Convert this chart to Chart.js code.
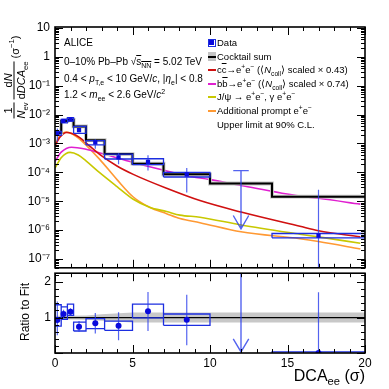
<!DOCTYPE html>
<html lang="en">
<head>
<meta charset="UTF-8">
<title>DCAee spectrum, 0-10% Pb-Pb</title>
<script src="https://cdn.jsdelivr.net/npm/chart.js"></script>
<style>
  body { margin: 0; background: #fff; font-family: "Liberation Sans", Arial, sans-serif; color: #000; }
  #wrap { position: relative; width: 389px; height: 389px; overflow: hidden; }
  canvas { position: absolute; left: 0; }
  #topChart { top: 0; }
  #ratioChart { top: 262px; }
  .txt { position: absolute; white-space: nowrap; line-height: 1; }
  .ann { left: 64px; font-size: 10px; }
  .leg { left: 217px; font-size: 9.5px; }
  sub, sup { font-size: 70%; line-height: 0; }
  .ol { text-decoration: overline; }
  .mk { position: absolute; }
  .frac { display: inline-flex; flex-direction: column; align-items: stretch; text-align: center; vertical-align: middle; }
  .frac .den { border-top: 1px solid #000; }
  #ytitle { position: absolute; left: 14px; top: 77px; transform: translate(-50%, -50%) rotate(-90deg);
            font-size: 11px; white-space: nowrap; display: flex; align-items: center; gap: 3px; }
  #rtitle { position: absolute; left: 25px; top: 312px; transform: translate(-50%, -50%) rotate(-90deg);
            font-size: 12px; white-space: nowrap; }
  #xtitle { position: absolute; right: 24px; top: 368px; font-size: 16px; line-height: 1; white-space: nowrap; }
</style>
</head>
<body>
<div id="wrap">
  <canvas id="topChart" width="389" height="280"></canvas>
  <canvas id="ratioChart" width="389" height="127"></canvas>

  <div id="ytitle">
    <span class="frac"><span>1</span><span class="den"><i>N</i><sub>ev</sub></span></span>
    <span class="frac"><span>d<i>N</i></span><span class="den">d<i>DCA</i><sub>ee</sub></span></span>
    <span>(σ<sup>−1</sup>)</span>
  </div>
  <div id="rtitle">Ratio to Fit</div>
  <div id="xtitle">DCA<sub>ee</sub> (σ)</div>

  <div class="txt ann" style="top:38px">ALICE</div>
  <div class="txt ann" style="top:57px">0–10% Pb–Pb √<span class="ol">s<sub>NN</sub></span> = 5.02 TeV</div>
  <div class="txt ann" style="top:74px">0.4 &lt; <i>p</i><sub>T,e</sub> &lt; 10 GeV/<i>c</i>, |<i>η</i><sub>e</sub>| &lt; 0.8</div>
  <div class="txt ann" style="top:90px">1.2 &lt; <i>m</i><sub>ee</sub> &lt; 2.6 GeV/<i>c</i><sup>2</sup></div>

  <!-- legend -->
  <div class="mk" style="left:208px;top:39px;width:6px;height:6px;border:1px solid #1c2ee0"></div>
  <div class="mk" style="left:209px;top:40px;width:5px;height:5px;background:#0a0adc"></div>
  <div class="mk" style="left:208px;top:52px;width:8px;height:9px;background:#c4c4c4"></div>
  <div class="mk" style="left:208px;top:55.5px;width:8px;height:2px;background:#000"></div>
  <div class="mk" style="left:208px;top:69px;width:8px;height:2px;background:#d01010"></div>
  <div class="mk" style="left:208px;top:82.5px;width:8px;height:2px;background:#e020d0"></div>
  <div class="mk" style="left:208px;top:96px;width:8px;height:2px;background:#c8c800"></div>
  <div class="mk" style="left:208px;top:110px;width:8px;height:2px;background:#ff9933"></div>

  <div class="txt leg" style="top:38px">Data</div>
  <div class="txt leg" style="top:51.5px">Cocktail sum</div>
  <div class="txt leg" style="top:65px">c<span class="ol">c</span>→e<sup>+</sup>e<sup>−</sup> (⟨<i>N</i><sub>coll</sub>⟩ scaled × 0.43)</div>
  <div class="txt leg" style="top:78.5px">b<span class="ol">b</span>→e<sup>+</sup>e<sup>−</sup> (⟨<i>N</i><sub>coll</sub>⟩ scaled × 0.74)</div>
  <div class="txt leg" style="top:92px">J/ψ → e<sup>+</sup>e<sup>−</sup>, γ e<sup>+</sup>e<sup>−</sup></div>
  <div class="txt leg" style="top:105.5px">Additional prompt e<sup>+</sup>e<sup>−</sup></div>
  <div class="txt leg" style="top:119.5px">Upper limit at 90% C.L.</div>
</div>

<script>
// ---- values ----
const binLo = [0, 0.4, 0.8, 1.2, 2, 3.2, 5, 7, 10, 14];
const binHi = [0.4, 0.8, 1.2, 2, 3.2, 5, 7, 10, 14, 20];
const cocktailSum = [2.3e-3, 6.0e-3, 6.6e-3, 3.9e-3, 1.3e-3, 4.3e-4, 2.0e-4, 8.5e-5, 4.1e-5, 1.44e-5];

// measured points (bin 10-14 is an upper limit, drawn separately)
const dataX  = [0.15, 0.55, 1.0, 1.55, 2.6, 4.1, 6.0, 8.5, 17];
const dataLo = [0, 0.4, 0.8, 1.2, 2, 3.2, 5, 7, 14];
const dataHi = [0.4, 0.8, 1.2, 2, 3.2, 5, 7, 10, 20];
const dataY  = [2.2e-3, 6.0e-3, 6.8e-3, 2.9e-3, 1.08e-3, 3.3e-4, 2.3e-4, 8.5e-5, 6.4e-7];
const statLo = [1.15e-3, 5.3e-3, 6.1e-3, 2.45e-3, 6.5e-4, 1.9e-4, 1.15e-4, 2.0e-5, 1e-9];
const statHi = [3.3e-3, 6.8e-3, 7.6e-3, 3.5e-3, 1.4e-3, 4.7e-4, 3.9e-4, 1.4e-4, 2.5e-5];
const sysLo  = [1.9e-3, 5.2e-3, 6.0e-3, 2.25e-3, 8.9e-4, 2.9e-4, 1.86e-4, 6.9e-5, 5.4e-7];
const sysHi  = [2.6e-3, 6.8e-3, 7.8e-3, 3.9e-3, 1.26e-3, 4.3e-4, 2.95e-4, 1.0e-4, 7.6e-7];

const limitX = 12, limitHalfW = 0.5;
const limitY = 1.15e-4, limitTip = 1.1e-6, limitWing = 3.2e-6;

// ratio panel
const ratioY      = [0.93, 1.1, 1.16, 0.74, 0.84, 0.77, 1.18, 0.94, 0.0];
const ratioStatLo = [0.5, 0.98, 1.06, 0.6, 0.55, 0.36, 0.62, 0.22, 0.0];
const ratioStatHi = [1.45, 1.22, 1.26, 0.9, 1.13, 1.15, 1.72, 1.64, 1.71];
const ratioSysLo  = [0.76, 0.95, 1.06, 0.62, 0.69, 0.64, 0.99, 0.78, -0.03];
const ratioSysHi  = [1.36, 1.3, 1.38, 0.87, 0.97, 0.9, 1.38, 1.1, 0.03];
const ratioLimitTop = 2.3, ratioLimitTip = 0.03, ratioLimitWing = 0.4;

const fitBandX  = [0, 2, 3, 5, 20];
const fitBandLo = [0.95, 0.94, 0.91, 0.86, 0.86];
const fitBandHi = [1.05, 1.06, 1.09, 1.14, 1.14];

// cocktail components
const ccX = [0, 0.3, 0.75, 1.1, 1.6, 2.26, 2.9, 4, 5.05, 7.2, 9.35, 12, 15.8, 17, 19.7];
const ccY = [8.3e-4, 1.6e-3, 2.4e-3, 2.2e-3, 1.6e-3, 7.9e-4, 4.1e-4, 1.66e-4, 8.5e-5, 2.8e-5, 1.05e-5, 4.2e-6, 1.35e-6, 9.5e-7, 5.8e-7];
const bbX = [0, 0.4, 1.07, 2, 2.9, 5.05, 7.2, 8.5, 10, 12, 15.8, 17, 19.7];
const bbY = [2.4e-4, 5.0e-4, 7.4e-4, 6.3e-4, 4.7e-4, 2.2e-4, 1.12e-4, 7.6e-5, 5.6e-5, 3.5e-5, 1.5e-5, 1.26e-5, 7.9e-6];
const jpsiX = [0, 0.4, 0.97, 1.5, 2.0, 2.9, 4.0, 5.05, 6.1, 7.2, 8.06, 9.35, 12, 15.8, 17, 19.7];
const jpsiY = [1.4e-4, 3.2e-4, 4.9e-4, 4.0e-4, 2.5e-4, 9.5e-5, 3.2e-5, 1.17e-5, 6.2e-6, 4.4e-6, 3.3e-6, 2.8e-6, 1.5e-6, 7.2e-7, 5.8e-7, 3.5e-7];
const promptX = [0, 0.3, 0.75, 1.2, 1.8, 2.9, 4.0, 5.05, 6.1, 7.2, 8.06, 9.35, 12, 15.8, 17, 19.7];
const promptY = [8.9e-4, 1.8e-3, 2.5e-3, 2.0e-3, 1.12e-3, 2.75e-4, 5.6e-5, 1.4e-5, 6.2e-6, 3.7e-6, 2.5e-6, 1.8e-6, 8.7e-7, 5.0e-7, 4.0e-7, 2.2e-7];

const topTicks = [1e-7, 1e-6, 1e-5, 1e-4, 1e-3, 1e-2, 1e-1, 1, 10];
const ratioTicks = [1, 2];
const xTicks = [0, 5, 10, 15, 20];

const BLUE = '#0a0adc', BOX = '#1c2ee0', ERR = 'rgba(40,60,235,0.8)';
Chart.defaults.font.family = '"Liberation Sans", Arial, sans-serif';
Chart.defaults.color = '#000';

// ---- helpers turning arrays into line paths ----
const pts = (xs, ys) => xs.map((x, i) => ({ x, y: ys[i] }));
function histo(lo, hi, v) {
  const out = lo.map((l, i) => ({ x: l, y: v[i] }));
  out.push({ x: hi[hi.length - 1], y: v[v.length - 1] });
  return out;
}
function boxes(lo, hi, ylo, yhi) {
  const out = [];
  lo.forEach((l, i) => {
    out.push({ x: l, y: ylo[i] }, { x: hi[i], y: ylo[i] }, { x: hi[i], y: yhi[i] },
             { x: l, y: yhi[i] }, { x: l, y: ylo[i] }, { x: l, y: null });
  });
  return out;
}
function bars(xs, ylo, yhi) {
  const out = [];
  xs.forEach((x, i) => out.push({ x, y: ylo[i] }, { x, y: yhi[i] }, { x, y: null }));
  return out;
}
const segLine = (data, color, width, order) => ({
  data, showLine: true, borderColor: color, borderWidth: width, pointRadius: 0,
  fill: false, spanGaps: false, order
});
const curve = (xs, ys, color) => ({
  data: pts(xs, ys), showLine: true, borderColor: color, borderWidth: 1.6,
  pointRadius: 0, cubicInterpolationMode: 'monotone', order: 6
});

// ROOT-like frame with inward ticks on all four sides
const frameTicks = {
  id: 'frameTicks',
  afterDatasetsDraw(chart, args, opts) {
    const { ctx, chartArea: a, scales: { x, y } } = chart;
    ctx.save();
    ctx.strokeStyle = '#000';
    ctx.lineWidth = 1;
    const seg = (x1, y1, x2, y2) => { ctx.beginPath(); ctx.moveTo(x1, y1); ctx.lineTo(x2, y2); ctx.stroke(); };
    for (let v = 0; v <= 20; v++) {
      const px = Math.round(x.getPixelForValue(v)) + 0.5;
      const len = v % 5 === 0 ? 8 : 4;
      seg(px, a.bottom, px, a.bottom - len);
      seg(px, a.top, px, a.top + len);
    }
    const yt = [];
    if (opts.log) {
      for (let k = -8; k <= 1; k++)
        for (let m = 1; m <= 9; m++) yt.push([m * Math.pow(10, k), m === 1]);
    } else {
      for (let i = 0; i <= 11; i++) yt.push([i * 0.2, i % 5 === 0]);
    }
    yt.forEach(([v, major]) => {
      if (v < y.min || v > y.max) return;
      const py = Math.round(y.getPixelForValue(v)) + 0.5;
      const len = major ? 8 : 4;
      seg(a.left, py, a.left + len, py);
      seg(a.right, py, a.right - len, py);
    });
    ctx.lineWidth = 1.6;
    ctx.strokeRect(a.left, a.top, a.right - a.left, a.bottom - a.top);
    ctx.restore();
  }
};

const supDigits = { '-': '⁻', '0': '⁰', '1': '¹', '2': '²', '3': '³', '4': '⁴', '5': '⁵', '6': '⁶', '7': '⁷', '8': '⁸', '9': '⁹' };
function logLabel(v) {
  const e = Math.round(Math.log10(v));
  if (e === 0) return '1';
  if (e === 1) return '10';
  return '10' + String(e).split('').map(c => supDigits[c]).join('');
}

// ---- upper panel ----
new Chart(document.getElementById('topChart').getContext('2d'), {
  type: 'scatter',
  data: {
    datasets: [
      { data: pts(dataX, dataY), pointStyle: 'rect', pointRadius: 3, backgroundColor: BLUE, borderColor: BLUE, borderWidth: 0, order: 0 },
      segLine(bars(dataX, statLo, statHi), ERR, 1.2, 1),
      segLine([{ x: limitX - limitHalfW, y: limitY }, { x: limitX + limitHalfW, y: limitY }, { x: limitX, y: null },
               { x: limitX, y: limitY }, { x: limitX, y: limitTip }, { x: limitX, y: null },
               { x: limitX - limitHalfW, y: limitWing }, { x: limitX, y: limitTip }, { x: limitX + limitHalfW, y: limitWing }], ERR, 1.4, 1),
      segLine(boxes(dataLo, dataHi, sysLo, sysHi), BOX, 1.3, 2),
      { ...segLine(histo(binLo, binHi, cocktailSum), '#000', 2, 3), stepped: true },
      { ...segLine(histo(binLo, binHi, cocktailSum), '#c4c4c4', 3.8, 4), stepped: true },
      curve(ccX, ccY, '#d01010'),
      curve(bbX, bbY, '#e020d0'),
      curve(jpsiX, jpsiY, '#c8c800'),
      curve(promptX, promptY, '#ff9933')
    ]
  },
  options: {
    responsive: false, animation: false, devicePixelRatio: 1,
    layout: { padding: { top: 27, bottom: 8, right: 24, left: 0 } },
    plugins: { legend: { display: false }, tooltip: { enabled: false }, frameTicks: { log: true } },
    scales: {
      x: { type: 'linear', min: 0, max: 20, display: false },
      y: {
        type: 'logarithmic', min: 4.94e-8, max: 10.8, bounds: 'data',
        grid: { display: false, drawTicks: false }, border: { display: false },
        afterBuildTicks: s => { s.ticks = topTicks.map(v => ({ value: v })); },
        afterFit: s => { s.width = 55; },
        ticks: { padding: 5, font: { size: 12 }, color: '#000', callback: v => logLabel(v) }
      }
    }
  },
  plugins: [frameTicks]
});

// ---- ratio panel ----
new Chart(document.getElementById('ratioChart').getContext('2d'), {
  type: 'scatter',
  data: {
    datasets: [
      { data: pts(dataX, ratioY), pointStyle: 'circle', pointRadius: 3, backgroundColor: BLUE, borderColor: BLUE, borderWidth: 0, order: 0 },
      segLine(bars(dataX, ratioStatLo, ratioStatHi), ERR, 1.2, 1),
      segLine([{ x: limitX, y: ratioLimitTop }, { x: limitX, y: ratioLimitTip }, { x: limitX, y: null },
               { x: limitX - limitHalfW, y: ratioLimitWing }, { x: limitX, y: ratioLimitTip }, { x: limitX + limitHalfW, y: ratioLimitWing }], ERR, 1.4, 1),
      segLine(boxes(dataLo, dataHi, ratioSysLo, ratioSysHi), BOX, 1.3, 2),
      segLine([{ x: 0, y: 1 }, { x: 20, y: 1 }], '#000', 1.3, 3),
      { data: pts(fitBandX, fitBandLo), showLine: true, borderWidth: 0, borderColor: 'rgba(0,0,0,0)', pointRadius: 0, order: 5 },
      { data: pts(fitBandX, fitBandHi), showLine: true, borderWidth: 0, borderColor: 'rgba(0,0,0,0)', pointRadius: 0,
        fill: '-1', backgroundColor: '#c8c8c8', order: 5 }
    ]
  },
  options: {
    responsive: false, animation: false, devicePixelRatio: 1,
    layout: { padding: { top: 10, bottom: 0, right: 24, left: 0 } },
    plugins: { legend: { display: false }, tooltip: { enabled: false }, frameTicks: { log: false } },
    scales: {
      x: {
        type: 'linear', min: 0, max: 20,
        grid: { display: false, drawTicks: false }, border: { display: false },
        afterBuildTicks: s => { s.ticks = xTicks.map(v => ({ value: v })); },
        afterFit: s => { s.height = 36; },
        ticks: { padding: 3, font: { size: 12 }, color: '#000', maxRotation: 0 }
      },
      y: {
        type: 'linear', min: 0, max: 2.25,
        grid: { display: false, drawTicks: false }, border: { display: false },
        afterBuildTicks: s => { s.ticks = ratioTicks.map(v => ({ value: v })); },
        afterFit: s => { s.width = 55; },
        ticks: { padding: 4, font: { size: 12 }, color: '#000' }
      }
    }
  },
  plugins: [frameTicks]
});
</script>
</body>
</html>
